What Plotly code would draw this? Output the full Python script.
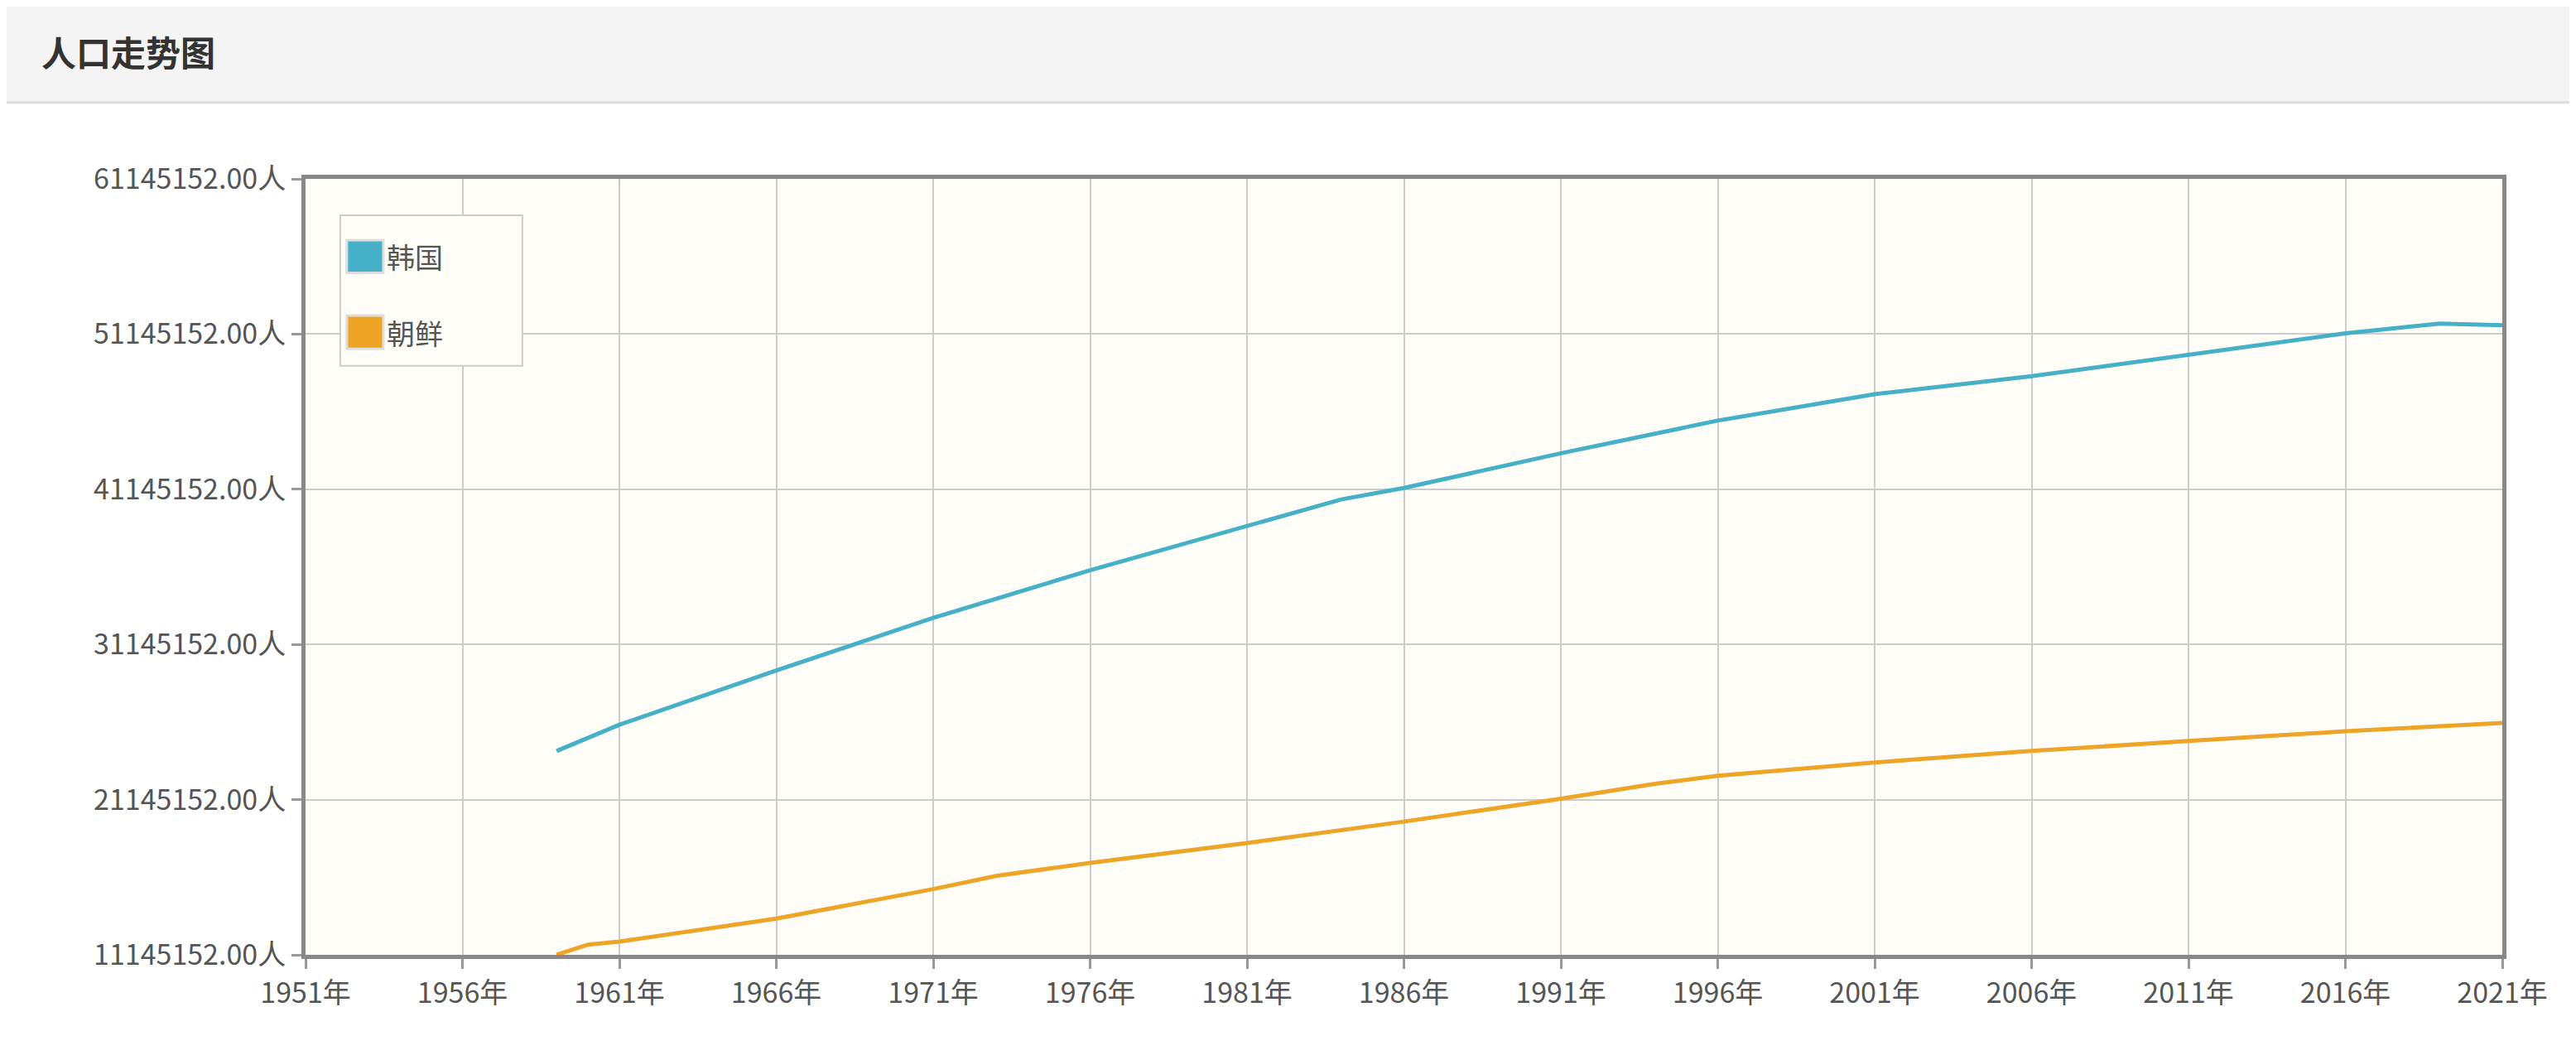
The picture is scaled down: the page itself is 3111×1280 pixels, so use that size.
import plotly.graph_objects as go

kr_years = [1959, 1961, 1966, 1971, 1976, 1981, 1984, 1986, 1991, 1996, 2001, 2006, 2011, 2016, 2019, 2021]
kr_pop = [24.28e6, 25.97e6, 29.47e6, 32.86e6, 35.93e6, 38.79e6, 40.49e6, 41.23e6, 43.46e6, 45.57e6, 47.27e6, 48.43e6, 49.81e6, 51.19e6, 51.82e6, 51.72e6]
kp_years = [1959, 1960, 1961, 1966, 1971, 1973, 1976, 1981, 1986, 1991, 1994, 1996, 2001, 2006, 2011, 2016, 2021]
kp_pop = [11.15e6, 11.8e6, 12.0e6, 13.48e6, 15.38e6, 16.23e6, 17.07e6, 18.35e6, 19.73e6, 21.2e6, 22.16e6, 22.69e6, 23.54e6, 24.28e6, 24.92e6, 25.55e6, 26.08e6]
series_names = ["韩国", "朝鲜"]
x_ticks = list(range(1951, 2022, 5))
y_ticks = [11145152 + 10000000 * i for i in range(6)]

C_KR = "#45b0c8"
C_KP = "#eea427"
FONT = "Noto Sans CJK SC"

fig = go.Figure()
fig.add_trace(go.Scatter(x=kr_years, y=kr_pop, mode="lines", name=series_names[0], line=dict(color=C_KR, width=5), showlegend=False))
fig.add_trace(go.Scatter(x=kp_years, y=kp_pop, mode="lines", name=series_names[1], line=dict(color=C_KP, width=5), showlegend=False))

shapes = [
    dict(type="rect", xref="paper", yref="paper", x0=-0.2, x1=1.1, y0=1.0993, y1=1.23,
         fillcolor="#f4f4f4", line=dict(width=0), layer="below"),
    dict(type="line", xref="paper", yref="paper", x0=-0.2, x1=1.1, y0=1.0985, y1=1.0985,
         line=dict(color="#dddddd", width=3)),
    dict(type="line", xref="paper", yref="paper", x0=1.032, x1=1.032, y0=-0.2, y1=1.0985,
         line=dict(color="#dddddd", width=3)),
    dict(type="rect", xref="paper", yref="paper", x0=0.0158, x1=0.0987, y0=0.759, y1=0.953,
         fillcolor="rgba(255,253,247,1)", line=dict(color="#cccccc", width=2)),
]
annotations = [dict(text="<b>人口走势图</b>", xref="paper", yref="paper", x=-0.121, y=1.165,
                    xanchor="left", yanchor="middle", showarrow=False,
                    font=dict(size=42, color="#333", family=FONT))]
for (name, c, y0, y1) in [(series_names[0], C_KR, 0.879, 0.921), (series_names[1], C_KP, 0.781, 0.824)]:
    shapes.append(dict(type="rect", xref="paper", yref="paper", x0=0.0188, x1=0.0354, y0=y0, y1=y1,
                       fillcolor=c, line=dict(color="#dddddd", width=3)))
    annotations.append(dict(text=name, xref="paper", yref="paper", x=0.0362, y=(y0 + y1) / 2,
                            xanchor="left", yanchor="middle", showarrow=False,
                            font=dict(size=34, color="#555", family=FONT)))

fig.update_layout(
    width=3111, height=1280,
    margin=dict(l=361, r=97, t=208, b=135),
    paper_bgcolor="white", plot_bgcolor="#fffdf7",
    font=dict(family=FONT, size=34, color="#555"),
    showlegend=False,
    shapes=shapes, annotations=annotations,
)
fig.update_xaxes(range=[1951, 2021], tickvals=x_ticks, ticktext=[f"{y}年" for y in x_ticks],
                 showgrid=True, gridcolor="#cccccc", gridwidth=2, showline=True, linecolor="#888",
                 linewidth=5, mirror=True, ticks="outside", ticklen=12, tickcolor="#999", tickwidth=3,
                 zeroline=False)
fig.update_yaxes(range=[11145152, 61145152], tickvals=y_ticks, ticktext=[f"{v}.00人" for v in y_ticks],
                 showgrid=True, gridcolor="#cccccc", gridwidth=2, showline=True, linecolor="#888",
                 linewidth=5, mirror=True, ticks="outside", ticklen=12, tickcolor="#999", tickwidth=3,
                 zeroline=False)
fig.write_html("out.html")
